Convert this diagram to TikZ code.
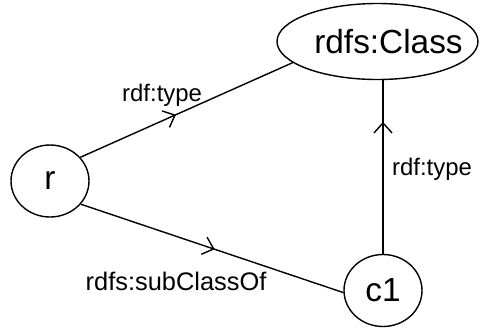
\documentclass[tikz,border=0pt]{standalone}
\usepackage{fontspec}
\setmainfont{Liberation Sans}
\usetikzlibrary{shapes.geometric,arrows.meta,decorations.markings}
\begin{document}
\begin{tikzpicture}[x=1bp,y=-1bp,
  res/.style={draw, ellipse, line width=1.4bp, inner sep=0pt,
    font=\fontsize{33.5}{38}\selectfont},
  prop/.style={line width=1.4bp, postaction={decorate},
    decoration={markings, mark=at position #1 with
      {\arrow{Straight Barb[length=10bp,width=18bp,line width=1.4bp]}}}},
  lbl/.style={font=\fontsize{24}{28}\selectfont, inner sep=0pt}]
  \useasboundingbox (0,0) rectangle (480,331);
  % resources (class name sits a little right of the ellipse centre;
  % a zero-width box keeps the ellipse at its minimum size)
  \node[res, minimum width=201bp, minimum height=76bp] (cls) at (377.5,41.5) {\makebox[0pt]{\hspace*{22bp}rdfs:Class}};
  \node[res, minimum width=78bp, minimum height=72bp] (r) at (50,181) {r};
  \node[res, minimum width=78bp, minimum height=72bp] (c1) at (383,290.5) {c1};
  % statements
  \draw[prop=0.45] (r.38) -- node[lbl, pos=0.385, yshift=26bp] (t1) {rdf:type} (cls.194);
  \draw[prop=0.51] (r.-37) -- node[lbl, font=\fontsize{25.5}{29}\selectfont, pos=0.363, yshift=-45bp] (t2) {rdfs:subClassOf} (c1.183);
  \draw[prop=0.76] (c1.north) -- node[lbl, pos=0.486, xshift=49bp] (t3) {rdf:type} (c1.north |- cls.south);
\end{tikzpicture}
\end{document}
